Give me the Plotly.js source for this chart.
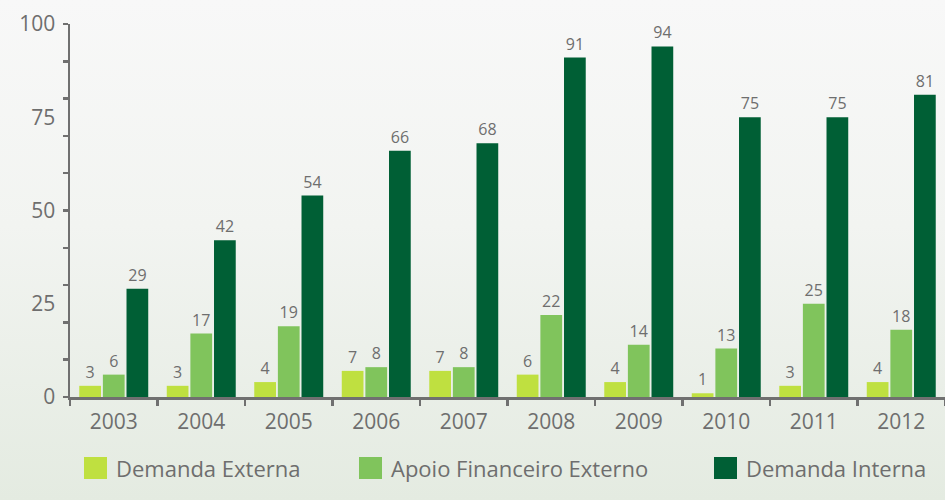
<!DOCTYPE html>
<html>
<head>
<meta charset="utf-8">
<script src="https://cdn.plot.ly/plotly-3.0.1.min.js"></script>
<style>
html,body{margin:0;padding:0;}
body{width:945px;height:500px;overflow:hidden;
background:linear-gradient(180deg,#f8f8f8 0%,#f2f4f1 45%,#e4ebe1 100%);}
#chart{width:945px;height:500px;}
</style>
</head>
<body>
<div id="chart"></div>
<script>
const years = ['2003','2004','2005','2006','2007','2008','2009','2010','2011','2012'];
const demandaExterna = [3,3,4,7,7,6,4,1,3,4];
const apoioFinanceiro = [6,17,19,8,8,22,14,13,25,18];
const demandaInterna = [29,42,54,66,68,91,94,75,75,81];
const seriesNames = ['Demanda Externa','Apoio Financeiro Externo','Demanda Interna'];
const seriesColors = ['#bfe040','#80c45c','#005f35'];
const yTickVals = [0,25,50,75,100];

const gray = '#6e6e6e';
const font = 'Open Sans, sans-serif';
const seriesValues = [demandaExterna, apoioFinanceiro, demandaInterna];

const traces = seriesValues.map((vals,i)=>({
  type:'bar', x:years, y:vals, name:seriesNames[i],
  marker:{color:seriesColors[i]},
  text:vals.map(String), textposition:'outside', cliponaxis:false,
  textfont:{family:font,size:16,color:gray},
  hoverinfo:'x+y+name'
}));

// pixel -> paper helpers (plot area: x 70..945, y 24..397)
const L=70, R=945, T=24, B=397;
const px = v => (v-L)/(R-L);
const py = v => (B-v)/(B-T);

const legendX = [84, 359, 714];
const shapes = [], annotations = [];
seriesNames.forEach((n,i)=>{
  shapes.push({type:'rect', xref:'paper', yref:'paper',
    x0:px(legendX[i]), x1:px(legendX[i]+23), y0:py(479), y1:py(457),
    fillcolor:seriesColors[i], line:{width:0}});
  annotations.push({xref:'paper', yref:'paper', x:px(legendX[i]+30), y:py(468),
    xanchor:'left', yanchor:'middle', showarrow:false, text:n,
    font:{family:font,size:22,color:gray}});
});

const minorVals = [0.0001,10,20,30,40,50.0001,60,70,80,90,99.9999];

const layout = {
  width:945, height:500,
  paper_bgcolor:'rgba(0,0,0,0)', plot_bgcolor:'rgba(0,0,0,0)',
  margin:{l:L, r:945-R, t:T, b:500-B},
  barmode:'group', bargap:0.19, bargroupgap:0.08,
  showlegend:false,
  font:{family:font, color:gray},
  xaxis:{type:'category', showline:true, linecolor:'#707070', linewidth:2.5,
    ticks:'outside', tickson:'boundaries', ticklen:6, tickwidth:2.5, tickcolor:'#707070',
    tickfont:{family:font,size:21,color:gray}, ticklabelstandoff:4,
    showgrid:false, zeroline:false, fixedrange:true},
  yaxis:{range:[0,100], tickmode:'array', tickvals:yTickVals, ticks:'',
    showline:true, linecolor:'#707070', linewidth:2.5, showgrid:false, zeroline:false,
    tickfont:{family:font,size:21,color:gray}, ticklabelstandoff:8,
    minor:{tickmode:'array', tickvals:minorVals, ticks:'outside', ticklen:5, tickwidth:2.5, tickcolor:'#707070', showgrid:false},
    fixedrange:true},
  shapes:shapes, annotations:annotations
};

Plotly.newPlot('chart', traces, layout, {displayModeBar:false, staticPlot:true});
</script>
</body>
</html>
